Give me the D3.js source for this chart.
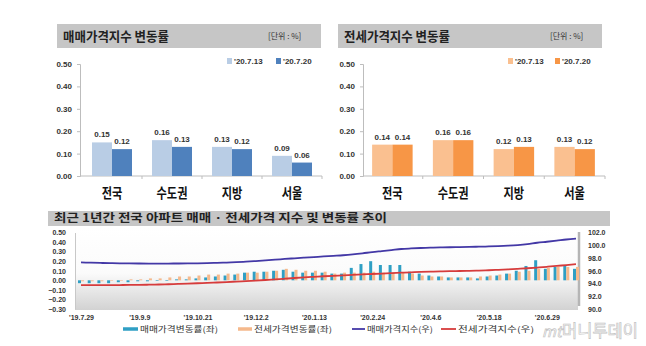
<!DOCTYPE html>
<html>
<head>
<meta charset="utf-8">
<script src="https://cdn.jsdelivr.net/npm/d3@7"></script>
<style>
body { margin: 0; background: #fff; }
svg { display: block; font-family: "Noto Sans CJK KR", "Noto Sans", sans-serif; }
</style>
</head>
<body>
<script>
// ---- top panels ----
const regions = ["전국", "수도권", "지방", "서울"];
const weekKeys = ["'20.7.13", "'20.7.20"];
const saleRate0713 = [0.15, 0.16, 0.13, 0.09];
const saleRate0720 = [0.12, 0.13, 0.12, 0.06];
const jeonseRate0713 = [0.14, 0.16, 0.12, 0.13];
const jeonseRate0720 = [0.14, 0.16, 0.13, 0.12];
const topTicks = [0, 0.1, 0.2, 0.3, 0.4, 0.5];

// ---- bottom panel: weekly, '19.7.29 ~ '20.7.20 ----
const weeks = ["'19.7.29","'19.8.5","'19.8.12","'19.8.19","'19.8.26","'19.9.2","'19.9.9","'19.9.16","'19.9.23","'19.9.30",
  "'19.10.7","'19.10.14","'19.10.21","'19.10.28","'19.11.4","'19.11.11","'19.11.18","'19.11.25","'19.12.2","'19.12.9",
  "'19.12.16","'19.12.23","'19.12.30","'20.1.6","'20.1.13","'20.1.20","'20.1.27","'20.2.3","'20.2.10","'20.2.17",
  "'20.2.24","'20.3.2","'20.3.9","'20.3.16","'20.3.23","'20.3.30","'20.4.6","'20.4.13","'20.4.20","'20.4.27",
  "'20.5.4","'20.5.11","'20.5.18","'20.5.25","'20.6.1","'20.6.8","'20.6.15","'20.6.22","'20.6.29","'20.7.6",
  "'20.7.13","'20.7.20"];
const saleChange = [-0.03,-0.03,-0.03,-0.03,-0.02,-0.02,-0.01,-0.01,0.00,0.00,
  0.01,0.01,0.02,0.03,0.04,0.05,0.06,0.08,0.09,0.09,
  0.10,0.11,0.09,0.08,0.08,0.08,0.07,0.07,0.13,0.17,
  0.20,0.16,0.16,0.16,0.09,0.07,0.05,0.04,0.03,0.03,
  0.03,0.02,0.04,0.05,0.07,0.10,0.15,0.21,0.12,0.14,
  0.15,0.12];
const jeonseChange = [-0.01,-0.01,-0.01,0.00,0.00,0.01,0.01,0.02,0.02,0.03,
  0.04,0.04,0.05,0.06,0.06,0.07,0.07,0.08,0.08,0.09,
  0.10,0.12,0.11,0.10,0.10,0.09,0.07,0.08,0.08,0.08,
  0.09,0.08,0.08,0.08,0.07,0.05,0.04,0.04,0.03,0.03,
  0.03,0.04,0.05,0.06,0.07,0.09,0.10,0.12,0.13,0.14,
  0.14,0.14];
const saleIndex = [97.30,97.26,97.22,97.19,97.17,97.15,97.14,97.13,97.13,97.13,
  97.14,97.15,97.17,97.20,97.24,97.29,97.35,97.43,97.52,97.62,
  97.73,97.85,97.95,98.05,98.15,98.25,98.34,98.43,98.56,98.73,
  98.93,99.09,99.25,99.41,99.50,99.57,99.62,99.66,99.69,99.72,
  99.75,99.77,99.81,99.86,99.93,100.03,100.18,100.39,100.55,100.72,
  100.90,101.05];
const jeonseIndex = [93.74,93.74,93.74,93.75,93.76,93.77,93.79,93.81,93.84,93.88,
  93.93,93.98,94.04,94.10,94.16,94.23,94.30,94.38,94.46,94.55,
  94.64,94.75,94.86,94.96,95.05,95.14,95.21,95.28,95.35,95.42,
  95.49,95.56,95.63,95.70,95.76,95.81,95.86,95.90,95.93,95.96,
  95.99,96.03,96.08,96.14,96.21,96.30,96.39,96.50,96.62,96.75,
  96.89,97.03];
const xTickWeeks = ["'19.7.29","'19.9.9","'19.10.21","'19.12.2","'20.1.13","'20.2.24","'20.4.6","'20.5.18","'20.6.29"];
const leftTicks = [-0.3,-0.2,-0.1,0,0.1,0.2,0.3,0.4,0.5];
const rightTicks = [90,92,94,96,98,100,102];
const legendNames = ["매매가격변동률(좌)", "전세가격변동률(좌)", "매매가격지수(우)", "전세가격지수(우)"];

const svg = d3.select("body").append("svg")
  .attr("width", 646)
  .attr("height", 346);

const defs = svg.append("defs");
const grad = defs.append("linearGradient").attr("id", "plotbg")
  .attr("x1", 0).attr("y1", 0).attr("x2", 0).attr("y2", 1);
grad.append("stop").attr("offset", "0%").attr("stop-color", "#ffffff");
grad.append("stop").attr("offset", "55%").attr("stop-color", "#fbfbfb");
grad.append("stop").attr("offset", "100%").attr("stop-color", "#d2d2d2");

function header(x, w, y, h, title, titleLen, size, unitX) {
  svg.append("rect")
    .attr("x", x).attr("y", y).attr("width", w).attr("height", h)
    .attr("fill", "#c6c6c6");
  svg.append("text")
    .attr("x", x + 6).attr("y", y + h / 2 + size * 0.36)
    .attr("font-size", size).attr("font-weight", "bold")
    .attr("fill", "#222")
    .attr("textLength", titleLen).attr("lengthAdjust", "spacingAndGlyphs")
    .text(title);
  if (unitX) {
    svg.append("text")
      .attr("x", unitX).attr("y", y + h / 2 + 3)
      .attr("font-size", 8).attr("fill", "#333")
      .text("[단위 : %]");
  }
}

function topChart(opt) {
  const y = d3.scaleLinear().domain([0, 0.5]).range([176, 64]);
  const x0 = d3.scaleBand().domain(regions).range(opt.range)
    .paddingInner(1 / 3).paddingOuter(1 / 6);
  const x1 = d3.scaleBand().domain(weekKeys).range([0, x0.bandwidth()]);

  const g = svg.append("g");

  g.append("g")
    .attr("transform", "translate(" + opt.axisX + ",0)")
    .call(d3.axisLeft(y).tickValues(topTicks).tickFormat(d3.format(".2f")).tickSize(3).tickPadding(5))
    .call(a => a.selectAll("line, path").attr("stroke", "#bdbdbd"))
    .call(a => a.selectAll("text").attr("font-size", 8).attr("font-weight", "bold")
      .attr("fill", "#333").attr("font-family", "Liberation Sans, Arial, sans-serif"));

  // x baseline with group separators
  g.append("line")
    .attr("x1", opt.axisX).attr("x2", opt.range[1])
    .attr("y1", y(0)).attr("y2", y(0))
    .attr("stroke", "#bdbdbd");
  g.selectAll("line.sep")
    .data(regions)
    .enter()
    .append("line")
    .attr("x1", function(d) { return x0(d) + x0.bandwidth() + x0.step() / 6; })
    .attr("x2", function(d) { return x0(d) + x0.bandwidth() + x0.step() / 6; })
    .attr("y1", y(0)).attr("y2", y(0) + 3)
    .attr("stroke", "#bdbdbd");

  const rows = regions.map(function(r, i) {
    return { region: r, vals: [opt.a[i], opt.b[i]] };
  });

  const grp = g.selectAll("g.grp")
    .data(rows)
    .enter()
    .append("g")
    .attr("transform", function(d) { return "translate(" + x0(d.region) + ",0)"; });

  grp.selectAll("rect")
    .data(function(d) { return d.vals.map(function(v, j) { return { k: weekKeys[j], v: v }; }); })
    .enter()
    .append("rect")
    .attr("x", function(d) { return x1(d.k); })
    .attr("y", function(d) { return y(d.v); })
    .attr("width", x1.bandwidth())
    .attr("height", function(d) { return y(0) - y(d.v); })
    .attr("fill", function(d, j) { return opt.colors[j]; });

  grp.selectAll("text")
    .data(function(d) { return d.vals.map(function(v, j) { return { k: weekKeys[j], v: v }; }); })
    .enter()
    .append("text")
    .attr("x", function(d) { return x1(d.k) + x1.bandwidth() / 2; })
    .attr("y", function(d) { return y(d.v) - 5; })
    .attr("text-anchor", "middle")
    .attr("font-size", 8).attr("font-weight", "bold")
    .attr("font-family", "Liberation Sans, Arial, sans-serif")
    .attr("fill", "#333")
    .text(function(d) { return d3.format(".2f")(d.v); });

  g.selectAll("text.cat")
    .data(regions)
    .enter()
    .append("text")
    .attr("x", function(d) { return x0(d) + x0.bandwidth() / 2; })
    .attr("y", 198)
    .attr("text-anchor", "middle")
    .attr("font-size", 14).attr("font-weight", "bold")
    .attr("fill", "#111")
    .attr("textLength", function(d) { return d.length * 10.3; })
    .attr("lengthAdjust", "spacingAndGlyphs")
    .text(function(d) { return d; });

  // legend
  weekKeys.forEach(function(k, j) {
    g.append("rect")
      .attr("x", opt.legX[j]).attr("y", 58)
      .attr("width", 5).attr("height", 6)
      .attr("fill", opt.colors[j]);
    g.append("text")
      .attr("x", opt.legX[j] + 7).attr("y", 64)
      .attr("font-size", 8).attr("font-weight", "bold")
      .attr("font-family", "Liberation Sans, Arial, sans-serif")
      .attr("fill", "#333")
      .text(k);
  });
}

header(57, 264, 24, 24, "매매가격지수 변동률", 106, 13, 268);
header(338, 264, 24, 24, "전세가격지수 변동률", 106, 13, 550);

topChart({ range: [82, 322], axisX: 80, a: saleRate0713, b: saleRate0720,
  colors: ["#b9cde5", "#4f81bd"], legX: [227, 276] });
topChart({ range: [362, 605], axisX: 363, a: jeonseRate0713, b: jeonseRate0720,
  colors: ["#fac090", "#f79646"], legX: [508, 555] });

// ---- bottom chart ----
header(48, 562, 211, 15, "최근 1년간 전국 아파트 매매 · 전세가격 지수 및 변동률 추이", 333, 11, null);

const plotL = 75, plotR = 578, plotT = 228, plotB = 310;
svg.append("rect")
  .attr("x", plotL).attr("y", plotT)
  .attr("width", plotR - plotL).attr("height", plotB - plotT)
  .attr("fill", "url(#plotbg)");
svg.append("line")
  .attr("x1", plotR + 1).attr("x2", plotR + 1)
  .attr("y1", plotT + 4).attr("y2", plotB - 4)
  .attr("stroke", "#b5b5b5").attr("stroke-width", 2.5);

const xp = d3.scalePoint().domain(weeks).range([81, 576]);
const yL = d3.scaleLinear().domain([-0.3, 0.5]).range([309, 232.5]);
const yR = d3.scaleLinear().domain([90, 102]).range([309, 232.5]);

svg.append("g")
  .attr("transform", "translate(" + plotL + ",0)")
  .call(d3.axisLeft(yL).tickValues(leftTicks).tickFormat(d3.format(".2f")).tickSize(0).tickPadding(9))
  .call(a => a.select("path").attr("stroke", "#c8c8c8"))
  .call(a => a.selectAll("text").attr("font-size", 7).attr("font-weight", "bold")
    .attr("fill", "#333").attr("font-family", "Liberation Sans, Arial, sans-serif"));

svg.append("g")
  .attr("transform", "translate(" + (plotR + 2) + ",0)")
  .call(d3.axisRight(yR).tickValues(rightTicks).tickFormat(d3.format(".1f")).tickSize(0).tickPadding(8))
  .call(a => a.select("path").remove())
  .call(a => a.selectAll("text").attr("font-size", 7).attr("font-weight", "bold")
    .attr("fill", "#333").attr("font-family", "Liberation Sans, Arial, sans-serif"));

svg.append("g")
  .attr("transform", "translate(0," + plotB + ")")
  .call(d3.axisBottom(xp).tickValues(xTickWeeks).tickSize(0).tickPadding(5))
  .call(a => a.select("path").remove())
  .call(a => a.selectAll("text").attr("font-size", 7).attr("font-weight", "bold")
    .attr("fill", "#333").attr("font-family", "Liberation Sans, Arial, sans-serif"));

const barW = 3;
svg.selectAll("rect.sale")
  .data(saleChange)
  .enter()
  .append("rect")
  .attr("x", function(d, i) { return xp(weeks[i]) - barW; })
  .attr("y", function(d) { return Math.min(yL(d), yL(0)); })
  .attr("width", barW)
  .attr("height", function(d) { return Math.max(0.6, Math.abs(yL(d) - yL(0))); })
  .attr("fill", "#2f9fc4");

svg.selectAll("rect.jeonse")
  .data(jeonseChange)
  .enter()
  .append("rect")
  .attr("x", function(d, i) { return xp(weeks[i]); })
  .attr("y", function(d) { return Math.min(yL(d), yL(0)); })
  .attr("width", barW)
  .attr("height", function(d) { return Math.max(0.6, Math.abs(yL(d) - yL(0))); })
  .attr("fill", "#f5b98c");

const line = function(scale) {
  return d3.line()
    .x(function(d, i) { return xp(weeks[i]); })
    .y(function(d) { return scale(d); })
    .curve(d3.curveMonotoneX);
};

svg.append("path")
  .datum(saleIndex)
  .attr("d", line(yR))
  .attr("fill", "none")
  .attr("stroke", "#4338a6")
  .attr("stroke-width", 1.8);

svg.append("path")
  .datum(jeonseIndex)
  .attr("d", line(yR))
  .attr("fill", "none")
  .attr("stroke", "#d63c3c")
  .attr("stroke-width", 1.8);

// legend
const legX = [123, 238, 352, 441];
const legSw = [15, 14, 13, 15];
const legText = [78, 78, 66, 76];
const legColor = ["#2f9fc4", "#f5b98c", "#4338a6", "#d63c3c"];
const legStroke = [3.5, 3.5, 1.8, 1.8];
legendNames.forEach(function(n, i) {
  svg.append("line")
    .attr("x1", legX[i]).attr("x2", legX[i] + legSw[i])
    .attr("y1", 329).attr("y2", 329)
    .attr("stroke", legColor[i]).attr("stroke-width", legStroke[i]);
  svg.append("text")
    .attr("x", legX[i] + legSw[i] + 2).attr("y", 332)
    .attr("font-size", 8).attr("fill", "#333")
    .attr("textLength", legText[i]).attr("lengthAdjust", "spacingAndGlyphs")
    .text(n);
});

// watermark, kept clear of the axis labels and legend
svg.append("text")
  .attr("x", 542).attr("y", 337)
  .attr("font-size", 15).attr("font-style", "italic")
  .attr("fill", "none").attr("stroke", "#9a9a9a").attr("stroke-width", 0.7)
  .attr("opacity", 0.6)
  .text("mt");
svg.append("text")
  .attr("x", 562).attr("y", 337)
  .attr("font-size", 17)
  .attr("fill", "none").attr("stroke", "#9a9a9a").attr("stroke-width", 0.7)
  .attr("opacity", 0.6)
  .attr("textLength", 76).attr("lengthAdjust", "spacingAndGlyphs")
  .text("머니투데이");
</script>
</body>
</html>
